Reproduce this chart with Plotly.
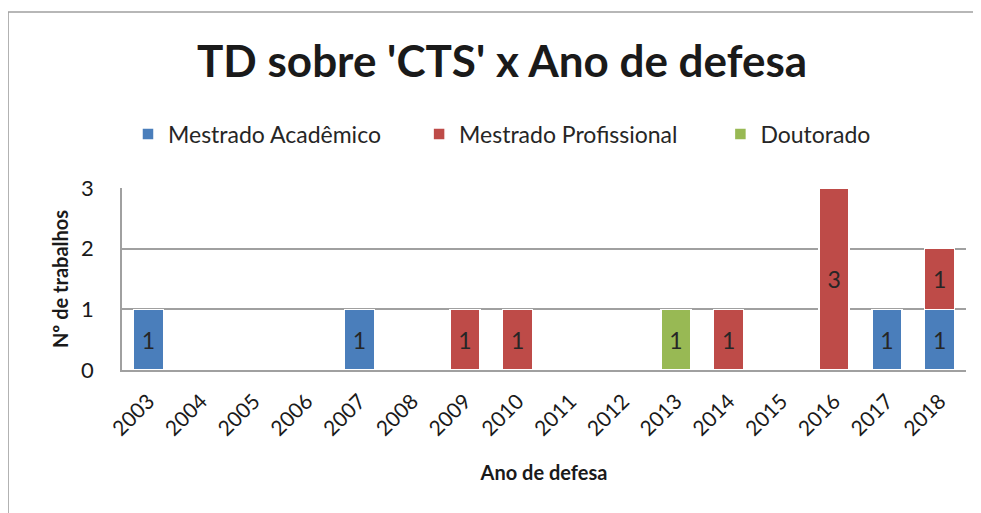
import plotly.graph_objects as go

anos = [str(a) for a in range(2003, 2019)]

# numero de trabalhos por ano e tipo
academico = [1, 0, 0, 0, 1, 0, 0, 0, 0, 0, 0, 0, 0, 0, 1, 1]
profissional = [0, 0, 0, 0, 0, 0, 1, 1, 0, 0, 0, 1, 0, 3, 0, 1]
doutorado = [0, 0, 0, 0, 0, 0, 0, 0, 0, 0, 1, 0, 0, 0, 0, 0]

series = [
    ("Mestrado Acadêmico", academico, "#4A7EBB", "legend"),
    ("Mestrado Profissional", profissional, "#BE4B48", "legend2"),
    ("Doutorado", doutorado, "#98B954", "legend3"),
]

fnt = "Lato"

fig = go.Figure()
for nome, vals, cor, leg in series:
    fig.add_trace(go.Bar(
        x=anos,
        y=[v if v else None for v in vals],
        name=nome,
        legend=leg,
        showlegend=True,
        marker=dict(color=cor, line=dict(color="white", width=1.5)),
        text=[str(v) if v else "" for v in vals],
        textposition="inside",
        insidetextanchor="middle",
        textfont=dict(family=fnt, size=23, color="#262626"),
        hoverinfo="x+y+name",
    ))

# uma legenda por serie, para espacar como no original
leg_base = dict(
    orientation="h",
    xanchor="left",
    y=1.297, yanchor="middle",
    font=dict(family=fnt, size=23, color="#262626"),
    bgcolor="rgba(0,0,0,0)",
    visible=True,
)

fig.update_layout(
    barmode="stack",
    bargap=0.43,
    width=981,
    height=513,
    showlegend=True,
    margin=dict(l=114, r=23, t=180, b=151),
    paper_bgcolor="white",
    plot_bgcolor="white",
    font=dict(family=fnt, color="#262626"),
    title=dict(
        text="<b>TD sobre 'CTS' x Ano de defesa</b>",
        x=0.5036, xanchor="center",
        yref="container", y=0.895, yanchor="middle",
        font=dict(family=fnt, size=44, color="#1a1a1a"),
    ),
    legend=dict(leg_base, x=0.0071),
    legend2=dict(leg_base, x=0.352),
    legend3=dict(leg_base, x=0.709),
    uniformtext=dict(minsize=10, mode="show"),
)

fig.update_xaxes(
    type="category",
    tickangle=-45,
    automargin=False,
    tickfont=dict(family=fnt, size=21, color="#1a1a1a"),
    ticklabelstandoff=9,
    showline=True, linecolor="#a0a0a0", linewidth=1.5,
    ticks="",
    title=dict(text="<b>Ano de defesa</b>", font=dict(family=fnt, size=20, color="#1a1a1a"), standoff=27),
)
fig.update_yaxes(
    range=[0, 3],
    dtick=1,
    automargin=False,
    showgrid=True, gridcolor="#a0a0a0", gridwidth=1.5,
    showline=True, linecolor="#a0a0a0", linewidth=1.5,
    zeroline=False,
    tickfont=dict(family=fnt, size=22, color="#1a1a1a"),
    ticklabelstandoff=22,
    ticks="",
    title=dict(text="<b>Nº de trabalhos</b>", font=dict(family=fnt, size=20, color="#1a1a1a"), standoff=7),
)

# moldura externa do grafico
fig.add_shape(
    type="rect", xref="paper", yref="paper",
    x0=-0.135, x1=1.0107, y0=-0.85, y1=1.967,
    line=dict(color="#a0a0a0", width=1.5),
    fillcolor="rgba(0,0,0,0)", layer="below",
)

fig.write_html("out.html")
